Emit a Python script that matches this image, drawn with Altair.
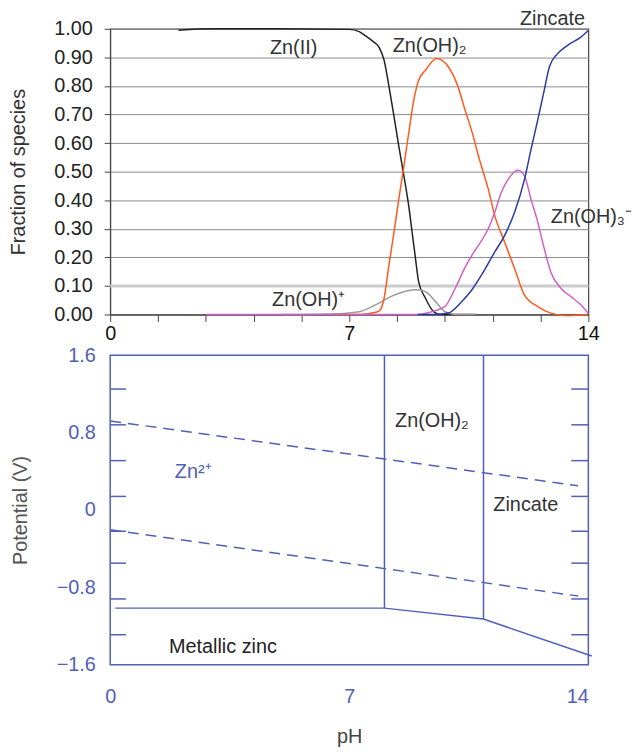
import altair as alt
import pandas as pd

FONT = "Liberation Sans"
FS = 20

# ---------------- top chart: speciation fractions ----------------
zn2_ph = [2.0, 3.0, 5.0, 7.0, 7.29, 7.48, 7.7, 7.87, 8.02, 8.16, 8.31, 8.45, 8.6, 8.74, 8.84, 8.94, 9.03, 9.23, 9.47, 9.66, 10.2, 10.7]
zn2_f = [0.995, 1.0, 1.0, 0.998, 0.99, 0.975, 0.955, 0.936, 0.89, 0.80, 0.693, 0.589, 0.485, 0.381, 0.288, 0.195, 0.115, 0.057, 0.01, 0.0, 0.0, 0.0]

znoh_ph = [5.0, 6.5, 7.29, 7.87, 8.26, 8.6, 8.9, 9.13, 9.32, 9.56, 9.8, 10.1, 10.7]
znoh_f = [0.0, 0.002, 0.01, 0.04, 0.065, 0.08, 0.087, 0.085, 0.072, 0.04, 0.01, 0.0, 0.0]

znoh2_ph = [6.5, 7.29, 7.6, 7.87, 8.02, 8.16, 8.31, 8.45, 8.6, 8.74, 8.89, 9.03, 9.23, 9.56, 9.9, 10.15, 10.39, 10.63, 10.77, 11.07, 11.26, 11.55, 11.84, 12.13, 12.52, 12.9, 13.39, 13.97]
znoh2_f = [0.0, 0.0, 0.004, 0.012, 0.057, 0.172, 0.288, 0.404, 0.52, 0.635, 0.751, 0.82, 0.855, 0.896, 0.867, 0.809, 0.716, 0.624, 0.56, 0.439, 0.346, 0.253, 0.161, 0.068, 0.028, 0.005, -0.004, 0.0]

znoh3_ph = [2.8, 9.03, 9.42, 9.8, 10.1, 10.39, 10.63, 10.77, 11.07, 11.26, 11.45, 11.65, 11.94, 12.13, 12.32, 12.52, 12.71, 12.9, 13.2, 13.49, 13.78, 14.0]
znoh3_f = [0.0, 0.0, 0.01, 0.028, 0.091, 0.165, 0.215, 0.24, 0.30, 0.358, 0.427, 0.473, 0.505, 0.485, 0.404, 0.323, 0.23, 0.149, 0.091, 0.0625, 0.034, 0.003]

zincate_ph = [9.0, 9.51, 9.9, 10.29, 10.58, 10.87, 11.26, 11.55, 11.84, 12.13, 12.32, 12.52, 12.71, 12.86, 13.1, 13.39, 13.78, 14.0]
zincate_f = [0.0, 0.0, 0.005, 0.045, 0.085, 0.138, 0.219, 0.277, 0.358, 0.473, 0.577, 0.682, 0.786, 0.867, 0.913, 0.942, 0.971, 0.994]

species = ["Zn(II)", "Zn(OH)+", "Zn(OH)2", "Zn(OH)3-", "Zincate"]
species_colors = ["#222222", "#9a9a9a", "#ff5a1e", "#d060c8", "#2a3aa0"]
species_widths = [1.5, 1.5, 2.2, 1.8, 2.2]

top_ticks = [0, 1.4, 2.8, 4.2, 5.6, 7, 8.4, 9.8, 11.2, 12.6, 14]
frac_ticks = [0, 0.1, 0.2, 0.3, 0.4, 0.5, 0.6, 0.7, 0.8, 0.9, 1.0]

top_labels = ["Zn(II)", "Zn(OH)\u2082", "Zincate", "Zn(OH)\u2083\u207b", "Zn(OH)\u207a"]
top_label_ph = [5.37, 9.35, 12.95, 12.9, 5.81]
top_label_f = [0.934, 0.941, 1.035, 0.34, 0.052]
top_label_align = ["center", "center", "center", "left", "center"]

rows = []
for name, xs, ys in [("Zn(II)", zn2_ph, zn2_f), ("Zn(OH)+", znoh_ph, znoh_f),
                     ("Zn(OH)2", znoh2_ph, znoh2_f), ("Zn(OH)3-", znoh3_ph, znoh3_f),
                     ("Zincate", zincate_ph, zincate_f)]:
    for i, (x, y) in enumerate(zip(xs, ys)):
        rows.append({"species": name, "pH": x, "f": y, "order": i})
curves = pd.DataFrame(rows)

xs_top = alt.Scale(domain=[0, 14], nice=False)
ys_top = alt.Scale(domain=[0, 1], nice=False)

axis_x_top = alt.Axis(values=top_ticks, grid=False, tickSize=7, tickColor="#444",
                      domainColor="#444", labelColor="#111", labelFontSize=FS,
                      labelPadding=2, labelFlush=False, labelOverlap=False,
                      labelExpr="(datum.value == 0 || datum.value == 7 || datum.value == 14) ? datum.label : ''",
                      title=None)
axis_y_top = alt.Axis(values=frac_ticks, format=".2f", grid=True, gridColor="#8a8a8a",
                      tickSize=6, tickColor="#444", domainColor="#444", labelColor="#222",
                      labelFontSize=FS, labelPadding=12, labelOverlap=False,
                      title="Fraction of species",
                      titleFontSize=FS, titleColor="#333", titlePadding=25, titleFontWeight="normal")

rule_01 = alt.Chart(pd.DataFrame({"f": [0.1]})).mark_rule(color="#cccccc", strokeWidth=3).encode(
    y=alt.Y("f:Q", scale=ys_top, axis=axis_y_top)
)

lines_top = alt.Chart(curves).mark_line(interpolate="monotone").encode(
    x=alt.X("pH:Q", scale=xs_top, axis=axis_x_top),
    y=alt.Y("f:Q", scale=ys_top, axis=axis_y_top),
    color=alt.Color("species:N", scale=alt.Scale(domain=species, range=species_colors), legend=None),
    strokeWidth=alt.StrokeWidth("species:N", scale=alt.Scale(domain=species, range=species_widths), legend=None),
    detail="species:N",
    order="order:Q",
)

top_text_df = pd.DataFrame({"label": top_labels, "pH": top_label_ph, "f": top_label_f, "align": top_label_align})
texts_top = []
for al in ["center", "left"]:
    texts_top.append(
        alt.Chart(top_text_df[top_text_df["align"] == al]).mark_text(
            font=FONT, fontSize=FS, color="#333", align=al, baseline="middle").encode(
            x=alt.X("pH:Q", scale=xs_top, axis=axis_x_top),
            y=alt.Y("f:Q", scale=ys_top, axis=axis_y_top),
            text="label:N")
    )

top = alt.layer(rule_01, lines_top, *texts_top).properties(
    width=482, height=288, view=alt.ViewBackground(stroke="#444", strokeWidth=1.2)
)

# ---------------- bottom chart: Pourbaix diagram ----------------
BLUE = "#5060b8"
pot_labels = [-1.6, -0.8, 0, 0.8, 1.6]
inner_ticks = [1.25, 0.88, 0.51, 0.14, -0.22, -0.55, -0.92, -1.29]

upper_dash_ph = [0.0, 13.7]
upper_dash_v = [0.92, 0.25]
lower_dash_ph = [0.0, 13.7]
lower_dash_v = [-0.205, -0.89]

metal_ph = [0.15, 8.03, 10.93, 14.1]
metal_v = [-1.015, -1.015, -1.128, -1.51]

vert_ph = [8.03, 10.93]
vert_bottom = [-1.015, -1.128]
vert_top = [1.6, 1.6]

bot_labels = ["Zn\u00b2\u207a", "Metallic zinc", "Zn(OH)\u2082", "Zincate"]
bot_label_ph = [2.43, 3.3, 9.42, 12.17]
bot_label_v = [0.39, -1.415, 0.92, 0.05]
bot_label_color = [BLUE, "#222", "#333", "#333"]

xs_b = alt.Scale(domain=[0, 14], nice=False)
ys_b = alt.Scale(domain=[-1.6, 1.6], nice=False)

axis_x_b = alt.Axis(values=[0, 7, 14], grid=False, ticks=False, domain=False, labelColor=BLUE,
                    labelFontSize=FS, labelPadding=22, labelFlush=False,
                    labelAlign={"condition": {"test": "datum.value == 14", "value": "right"}, "value": "center"},
                    title="pH", titleFontSize=FS, titleColor="#444", titlePadding=20,
                    titleFontWeight="normal")
axis_y_b = alt.Axis(values=pot_labels, format=".1~f", grid=False, ticks=False, domain=False,
                    labelColor=BLUE, labelFontSize=FS, labelPadding=15, labelOverlap=False,
                    title="Potential (V)", titleFontSize=FS,
                    titleColor="#555", titlePadding=26, titleFontWeight="normal")

dash_rows = []
for name, xs, ys in [("upper", upper_dash_ph, upper_dash_v), ("lower", lower_dash_ph, lower_dash_v)]:
    for x, y in zip(xs, ys):
        dash_rows.append({"line": name, "pH": x, "V": y})
dash_df = pd.DataFrame(dash_rows)

dashes = alt.Chart(dash_df).mark_line(color=BLUE, strokeWidth=1.5, strokeDash=[11, 7]).encode(
    x=alt.X("pH:Q", scale=xs_b, axis=axis_x_b),
    y=alt.Y("V:Q", scale=ys_b, axis=axis_y_b),
    detail="line:N",
)

metal = alt.Chart(pd.DataFrame({"pH": metal_ph, "V": metal_v, "o": list(range(len(metal_ph)))})).mark_line(
    color=BLUE, strokeWidth=1.5).encode(
    x=alt.X("pH:Q", scale=xs_b, axis=axis_x_b), y=alt.Y("V:Q", scale=ys_b, axis=axis_y_b), order="o:Q")

verts = alt.Chart(pd.DataFrame({"pH": vert_ph, "lo": vert_bottom, "hi": vert_top})).mark_rule(
    color=BLUE, strokeWidth=1.5).encode(
    x=alt.X("pH:Q", scale=xs_b, axis=axis_x_b), y=alt.Y("lo:Q", scale=ys_b, axis=axis_y_b), y2="hi:Q")

tick_df = pd.DataFrame({"V": inner_ticks + inner_ticks,
                        "x0": [0.0] * len(inner_ticks) + [13.5] * len(inner_ticks),
                        "x1": [0.46] * len(inner_ticks) + [14.0] * len(inner_ticks)})
ticks_b = alt.Chart(tick_df).mark_rule(color=BLUE, strokeWidth=1.5).encode(
    x=alt.X("x0:Q", scale=xs_b, axis=axis_x_b), x2="x1:Q", y=alt.Y("V:Q", scale=ys_b, axis=axis_y_b))

bot_text_df = pd.DataFrame({"label": bot_labels, "pH": bot_label_ph, "V": bot_label_v, "c": bot_label_color})
texts_b = alt.Chart(bot_text_df).mark_text(font=FONT, fontSize=FS, align="center", baseline="middle").encode(
    x=alt.X("pH:Q", scale=xs_b, axis=axis_x_b), y=alt.Y("V:Q", scale=ys_b, axis=axis_y_b), text="label:N",
    color=alt.Color("c:N", scale=None))

bottom = alt.layer(dashes, metal, verts, ticks_b, texts_b).properties(
    width=482, height=312, view=alt.ViewBackground(stroke=BLUE, strokeWidth=1.5)
)

chart = alt.vconcat(top, bottom, spacing=0).properties(
    padding={"top": -3, "left": 0, "right": 0, "bottom": 0}
).configure_axis(
    labelFont=FONT, titleFont=FONT
).configure_text(font=FONT).configure_view(stroke=None)

chart.save("out.html", embed_options={"renderer": "svg", "actions": False})
